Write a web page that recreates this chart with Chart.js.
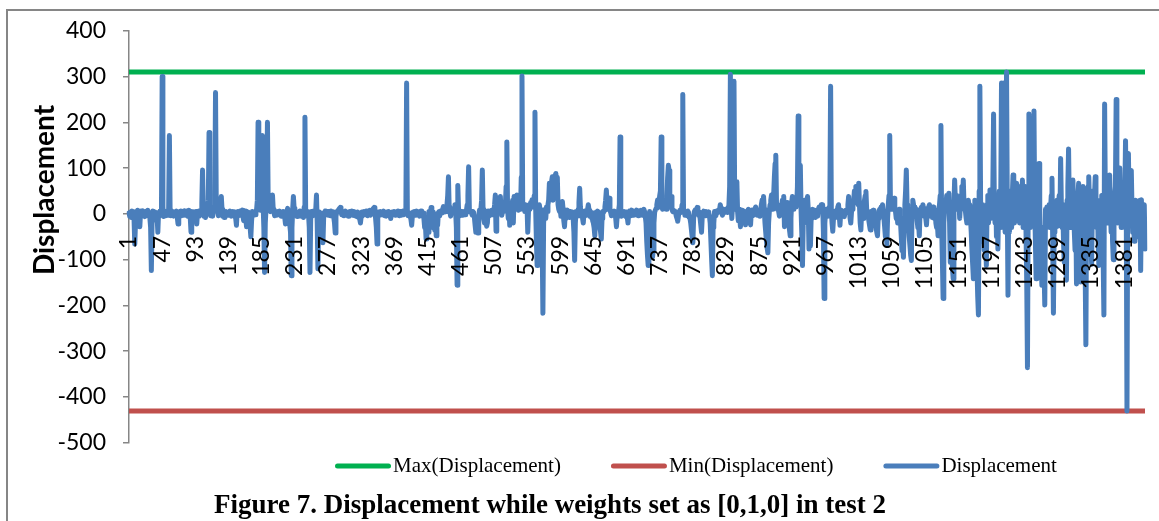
<!DOCTYPE html>
<html>
<head>
<meta charset="utf-8">
<script src="https://cdn.jsdelivr.net/npm/chart.js@4.4.1/dist/chart.umd.min.js"></script>
<style>
html,body{margin:0;padding:0;background:#fff;}
#wrap{position:relative;width:1159px;height:521px;}
</style>
</head>
<body>
<div id="wrap"><canvas id="c" width="1159" height="521"></canvas></div>
<script>
// ---- data ----
const displacement = [
2,-5,4,-8,6,-3,5,-12,-66,-20,5,-4,8,-25,-10,-28,3,6,-5,7,-3,4,-6,5,-2,3,8,-4,2,-10,-30,-124,-15,6,-3,4,-5,2,-4,-8,-40,3,-5,6,2,-3,
300,15,-6,3,-4,5,2,-3,6,10,171,8,-4,3,-2,5,-5,2,4,-3,6,-8,-22,4,-2,3,6,-4,2,5,-3,7,-2,4,6,-5,3,8,-2,-10,-40,5,-3,4,2,-6,
-4,5,-22,3,-5,6,2,-3,8,25,96,15,-5,4,-8,3,10,5,30,178,20,-4,6,3,-5,12,8,40,265,25,10,5,-4,8,15,20,38,10,-5,4,-8,3,-2,5,-3,2,
4,-3,6,2,-5,3,5,-2,4,-6,-10,-25,3,5,-4,2,6,-3,4,8,-5,-15,3,6,-8,-28,-10,4,-12,-20,-30,-50,-15,5,-3,2,4,-2,3,10,30,200,25,15,8,20,
10,171,20,-30,-128,-20,10,40,200,30,15,8,5,12,20,41,10,3,-4,6,2,-3,5,4,-2,6,3,-5,4,2,5,-3,-8,-22,3,6,12,4,-10,-25,-40,-135,-30,10,38,12,
4,-3,5,-6,2,4,-2,6,3,-5,4,2,-8,15,211,10,-4,3,5,-2,-30,-128,-10,5,3,-4,6,2,-3,10,41,-20,-120,-15,4,-6,2,-10,-30,-63,-5,3,6,-2,4,5,
-3,5,2,-4,6,3,-2,4,-8,-20,-42,-5,3,6,8,10,12,14,5,-2,3,5,-4,2,6,-3,4,2,-5,3,5,-2,4,6,-3,2,5,-4,3,2,-6,4,3,-8,-12,-20,
-5,4,2,-3,5,3,-2,6,4,-4,2,5,8,-3,4,6,10,12,14,5,-10,-30,-66,-8,4,2,-3,5,3,-2,4,6,-4,2,3,-5,4,2,5,-3,-6,-10,2,4,-2,3,
5,-3,4,2,-2,6,3,-4,5,2,-3,4,6,-2,3,5,10,286,8,-4,3,2,-6,-12,-25,-5,4,2,5,-3,3,6,-2,4,2,-5,3,6,4,-4,2,-10,-30,-20,-55,-8,
-20,-40,5,-15,3,14,-10,-30,4,-20,-35,-10,-48,-15,-25,3,5,-4,6,2,8,10,16,4,8,12,5,20,40,81,15,5,-5,4,8,10,5,12,20,5,-30,-156,62,10,5,-4,
6,3,-3,5,2,4,-2,6,8,20,40,103,10,4,6,2,-3,5,3,-8,-25,-40,-20,-35,-42,-10,8,5,10,30,96,10,-12,-20,4,-15,-27,-20,6,3,-4,5,2,8,4,-2,
5,20,41,-38,30,35,10,25,30,38,5,-3,4,10,15,6,20,60,157,10,-10,15,-25,8,20,15,30,-20,38,10,25,20,41,15,8,20,30,10,80,301,20,10,15,5,20,8,
15,-40,5,20,10,25,20,31,15,20,40,222,10,-60,-113,-110,-80,20,10,5,-20,-60,-217,-20,5,10,-10,15,5,20,30,67,40,55,70,81,30,60,70,85,88,40,80,20,10,5,
10,-5,15,27,10,-15,-28,3,-10,5,8,-4,2,-8,5,3,-6,4,-10,-40,-102,-20,5,3,-5,10,25,56,15,-5,4,-10,-20,3,6,-4,2,5,10,20,8,-5,4,-8,3,-15,
-20,-30,-48,-10,4,-5,6,3,-15,-30,-40,-55,-10,5,3,8,15,30,52,20,10,25,34,8,3,-4,5,2,-3,6,4,-10,-28,-5,3,6,20,168,10,-5,4,2,-3,5,3,-6,
4,-8,-20,3,6,-4,5,8,2,-3,6,4,-2,5,8,3,-4,6,2,5,8,4,-3,6,10,5,-5,-20,-60,-90,-113,-30,5,-10,-40,-70,-95,-80,-20,4,8,12,20,30,15,25,
40,50,168,20,10,25,15,20,30,10,40,80,106,95,20,30,38,10,5,8,4,6,3,-5,-10,-16,-4,5,8,3,6,20,261,10,4,-3,5,2,-4,6,3,-8,-10,-20,-35,-50,
-63,-10,5,8,4,10,14,5,-3,4,-10,-25,-40,-5,3,6,2,-4,5,3,-2,4,2,-5,-20,-60,-100,-135,-30,-20,5,3,-4,6,2,8,4,10,20,12,5,-3,4,2,6,10,
5,8,3,15,20,60,305,15,-10,20,150,290,20,10,30,70,5,-15,10,-10,-28,5,-10,8,-15,5,-10,-24,3,-8,6,10,-5,-15,-24,4,8,-4,3,6,10,15,5,-3,8,4,
6,-5,10,20,30,15,38,10,-20,-40,-60,-75,-85,-20,5,20,30,41,10,20,40,80,110,128,20,10,15,5,-5,10,20,15,30,20,38,-28,20,10,-15,25,5,-20,-35,-48,-10,25,
38,10,25,30,15,35,20,60,214,20,50,106,10,-40,-113,-20,10,30,20,15,25,38,10,-77,-20,-70,-10,5,10,-5,8,4,-8,6,3,-5,10,15,5,12,20,8,20,-40,-185,-20,
5,10,-5,3,8,15,30,279,10,-20,-38,-10,5,3,-8,6,10,15,20,-5,-25,4,8,-3,5,2,-6,4,8,3,10,20,38,10,-10,-20,5,10,20,30,50,40,60,30,50,20,
67,20,-20,-35,5,10,-10,20,30,40,49,10,-5,4,-15,-25,-35,5,3,-6,8,4,-10,-20,-30,-40,-48,-10,5,10,6,15,10,20,5,-10,-30,-50,-40,-66,-10,20,40,171,20,10,
25,15,20,34,10,5,-10,8,-20,5,10,-5,-20,-50,-80,-60,-95,-20,20,50,96,20,10,-20,-50,-70,-90,-102,10,30,20,5,15,-5,10,-15,-30,-20,-48,5,10,15,5,20,10,-5,
10,-10,-24,5,10,15,20,5,-5,10,-8,15,5,-10,8,-20,-30,-20,-48,10,20,40,193,-30,-100,-185,-20,10,30,20,40,30,10,45,-20,-106,-30,-60,-120,-142,20,74,30,10,40,20,
10,30,-10,20,40,60,30,74,20,10,5,-10,-20,15,30,10,20,-10,-40,-80,-110,-142,10,30,20,-50,-120,-180,-221,50,279,30,-30,-60,20,-40,-80,10,-60,-113,20,40,-20,30,52,-10,
20,40,60,218,30,-20,40,-50,30,-77,20,50,-30,40,286,20,60,286,30,-40,80,310,20,-178,30,-40,50,20,-30,40,85,20,-20,40,10,67,-10,50,20,-20,60,30,10,74,-30,40,
20,60,-40,-150,-336,20,218,30,-30,50,20,-20,60,225,20,-60,-142,30,50,-20,110,10,-60,-100,-156,-30,-80,-120,-199,10,-20,15,-10,5,20,-30,10,40,78,-60,-217,-40,20,-30,10,30,
-27,20,40,-20,121,20,-30,10,-60,-106,20,-80,-145,30,60,142,20,-30,40,-20,30,74,10,-40,-80,20,-153,10,40,67,-20,-60,-149,20,40,60,10,-40,-120,-286,20,40,60,81,20,-40,
-60,-110,20,50,-20,40,81,30,-30,20,-60,-113,10,30,-20,40,-40,-100,-221,240,30,-20,40,10,60,-20,85,20,-40,30,-60,-100,20,40,60,250,30,-20,40,10,100,20,-30,40,10,30,
-20,40,160,20,-431,30,132,20,60,-20,95,10,-40,20,-60,10,30,-30,20,-50,10,-20,30,-124,31,-40,10,-60,20,-77
];
const categories = displacement.map((_, i) => String(i + 1));
const xTickLabels = ['1','47','93','139','185','231','277','323','369','415','461','507','553','599','645','691','737','783','829','875','921','967','1013','1059','1105','1151','1197','1243','1289','1335','1381'];
const maxLine = [310, 310];
const minLine = [-431, -431];
const seriesNames = ['Max(Displacement)', 'Min(Displacement)', 'Displacement'];
const seriesColors = ['#00B050', '#C0504D', '#4A7EBB'];
const yAxisTitle = 'Displacement';
const captionText = 'Figure 7. Displacement while weights set as [0,1,0] in test 2';

const lastCat = categories[categories.length - 1];

const decorPlugin = {
  id: 'decor',
  afterDraw(chart) {
    const ctx = chart.ctx;
    ctx.save();
    // outer frame
    ctx.strokeStyle = '#868686';
    ctx.lineWidth = 2;
    ctx.beginPath();
    ctx.moveTo(7, 521);
    ctx.lineTo(7, 10);
    ctx.lineTo(1159, 10);
    ctx.stroke();
    // y-axis title
    ctx.save();
    ctx.translate(45, 190);
    ctx.rotate(-Math.PI / 2);
    ctx.font = 'bold 28px Lato';
    ctx.fillStyle = '#000';
    ctx.textAlign = 'center';
    ctx.textBaseline = 'middle';
    ctx.fillText(yAxisTitle, 0, 0);
    ctx.restore();
    // legend
    let x = 335;
    const ly = 466;
    ctx.font = '21px "Liberation Serif"';
    ctx.textBaseline = 'middle';
    ctx.textAlign = 'left';
    chart.data.datasets.forEach((ds) => {
      ctx.strokeStyle = ds.borderColor;
      ctx.lineWidth = 5;
      ctx.lineCap = 'round';
      ctx.beginPath();
      ctx.moveTo(x + 2.5, ly);
      ctx.lineTo(x + 53.5, ly);
      ctx.stroke();
      ctx.fillStyle = '#000';
      ctx.fillText(ds.label, x + 58, ly);
      x += 58 + ctx.measureText(ds.label).width + 50;
    });
    // caption
    ctx.font = 'bold 27px "Liberation Serif"';
    ctx.textAlign = 'center';
    ctx.fillText(captionText, 550, 506);
    ctx.restore();
  }
};

function build() {
  new Chart(document.getElementById('c'), {
    type: 'line',
    data: {
      labels: categories,
      datasets: [
        {
          label: seriesNames[0],
          data: [{x: categories[0], y: maxLine[0]}, {x: lastCat, y: maxLine[1]}],
          borderColor: seriesColors[0], borderWidth: 5, pointRadius: 0, order: 1
        },
        {
          label: seriesNames[1],
          data: [{x: categories[0], y: minLine[0]}, {x: lastCat, y: minLine[1]}],
          borderColor: seriesColors[1], borderWidth: 5, pointRadius: 0, order: 1
        },
        {
          label: seriesNames[2],
          data: displacement,
          borderColor: seriesColors[2], borderWidth: 5, pointRadius: 0, order: 0,
          borderJoinStyle: 'round', borderCapStyle: 'round', tension: 0
        }
      ]
    },
    options: {
      responsive: false,
      animation: false,
      devicePixelRatio: 1,
      layout: { padding: { left: 0, right: 14, top: 26, bottom: 78.3 } },
      plugins: { legend: { display: false }, title: { display: false }, tooltip: { enabled: false } },
      scales: {
        x: {
          type: 'category',
          position: { y: 0 },
          offset: false,
          grid: { display: false },
          border: { display: false },
          ticks: {
            z: 1,
            autoSkip: false, minRotation: 90, maxRotation: 90, padding: 14,
            color: '#000', font: { family: 'Lato', size: 23 },
            callback: function (value) {
              const l = this.getLabelForValue(value);
              return xTickLabels.includes(l) ? l : '';
            }
          },
          afterFit(s) { s.height = 0; s.paddingLeft = 0; s.paddingRight = 0; }
        },
        y: {
          min: -500, max: 400,
          ticks: { stepSize: 100, padding: 17, color: '#000', font: { family: 'Lato', size: 23 } },
          grid: { display: true, drawOnChartArea: false, drawTicks: true, tickLength: 6, color: '#868686', lineWidth: 1.5 },
          border: { display: true, color: '#868686', width: 1.5 },
          afterFit(s) { s.width = 129; }
        }
      }
    },
    plugins: [decorPlugin]
  });
}
Promise.all([
  document.fonts.load('23px Lato'),
  document.fonts.load('bold 28px Lato'),
  document.fonts.load('21px "Liberation Serif"'),
  document.fonts.load('bold 27px "Liberation Serif"')
]).catch(() => {}).then(build);
</script>
</body>
</html>
